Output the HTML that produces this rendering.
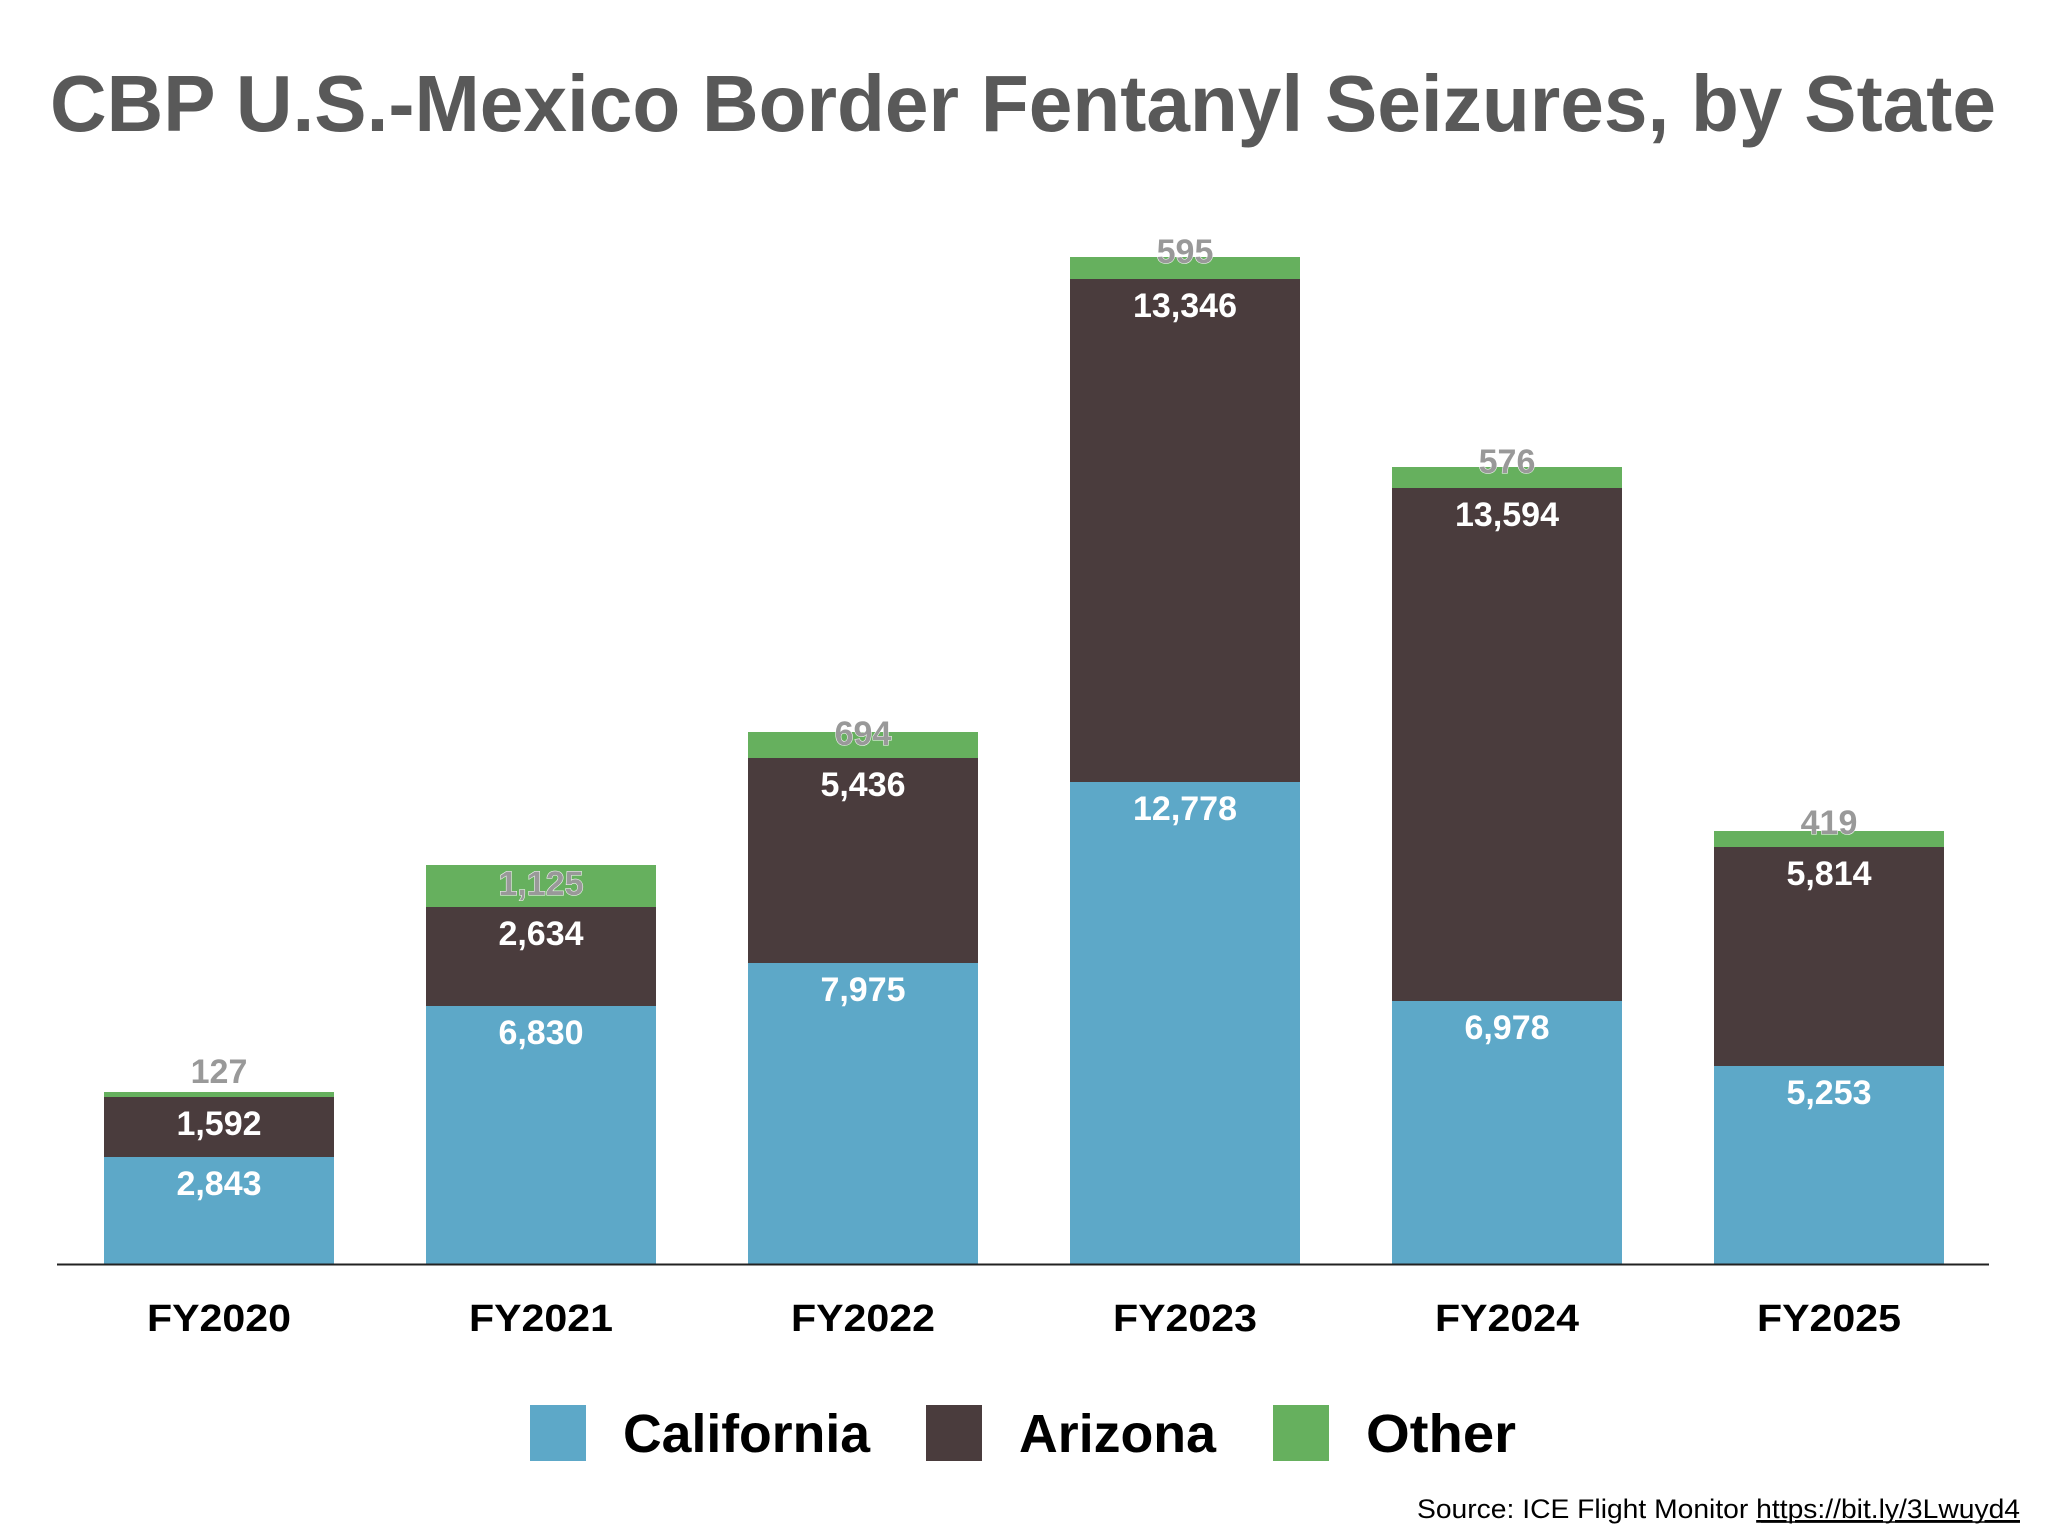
<!DOCTYPE html>
<html><head><meta charset="utf-8"><style>
html,body{margin:0;padding:0;background:#fff;}
svg{display:block;}
text{font-family:"Liberation Sans",sans-serif;}
</style></head><body>
<svg width="2048" height="1536" viewBox="0 0 2048 1536" xmlns="http://www.w3.org/2000/svg">
<rect width="2048" height="1536" fill="#fff"/>
<text x="50" y="131" font-size="80" font-weight="bold" fill="#595959" textLength="1946" lengthAdjust="spacingAndGlyphs">CBP U.S.-Mexico Border Fentanyl Seizures, by State</text>

<g id="bars">
<!-- FY2020 -->
<rect x="104" y="1157" width="230" height="107" fill="#5da8c8"/>
<rect x="104" y="1097" width="230" height="60" fill="#4a3c3d"/>
<rect x="104" y="1092" width="230" height="5" fill="#66b05e"/>
<!-- FY2021 -->
<rect x="426" y="1006" width="230" height="258" fill="#5da8c8"/>
<rect x="426" y="907" width="230" height="99" fill="#4a3c3d"/>
<rect x="426" y="865" width="230" height="42" fill="#66b05e"/>
<!-- FY2022 -->
<rect x="748" y="963" width="230" height="301" fill="#5da8c8"/>
<rect x="748" y="758" width="230" height="205" fill="#4a3c3d"/>
<rect x="748" y="732" width="230" height="26" fill="#66b05e"/>
<!-- FY2023 -->
<rect x="1070" y="782" width="230" height="482" fill="#5da8c8"/>
<rect x="1070" y="279" width="230" height="503" fill="#4a3c3d"/>
<rect x="1070" y="257" width="230" height="22" fill="#66b05e"/>
<!-- FY2024 -->
<rect x="1392" y="1001" width="230" height="263" fill="#5da8c8"/>
<rect x="1392" y="488" width="230" height="513" fill="#4a3c3d"/>
<rect x="1392" y="467" width="230" height="21" fill="#66b05e"/>
<!-- FY2025 -->
<rect x="1714" y="1066" width="230" height="198" fill="#5da8c8"/>
<rect x="1714" y="847" width="230" height="219" fill="#4a3c3d"/>
<rect x="1714" y="831" width="230" height="16" fill="#66b05e"/>
</g>

<line x1="57" y1="1264.5" x2="1989" y2="1264.5" stroke="#222" stroke-width="2"/>

<g font-size="34" font-weight="bold" fill="#fff" text-anchor="middle">
<text x="219" y="1195">2,843</text>
<text x="219" y="1135">1,592</text>
<text x="541" y="1044">6,830</text>
<text x="541" y="945">2,634</text>
<text x="863" y="1001">7,975</text>
<text x="863" y="796">5,436</text>
<text x="1185" y="820">12,778</text>
<text x="1185" y="317">13,346</text>
<text x="1507" y="1039">6,978</text>
<text x="1507" y="526">13,594</text>
<text x="1829" y="1104">5,253</text>
<text x="1829" y="885">5,814</text>
</g>
<g font-size="34" font-weight="bold" fill="#999" text-anchor="middle" stroke="#fff" stroke-width="1" paint-order="stroke">
<text x="219" y="1083">127</text>
<text x="541" y="895">1,125</text>
<text x="863" y="745">694</text>
<text x="1185" y="263">595</text>
<text x="1507" y="473">576</text>
<text x="1829" y="834">419</text>
</g>

<g font-size="38" font-weight="bold" fill="#000" text-anchor="middle">
<text x="219" y="1331" textLength="144" lengthAdjust="spacingAndGlyphs">FY2020</text>
<text x="541" y="1331" textLength="144" lengthAdjust="spacingAndGlyphs">FY2021</text>
<text x="863" y="1331" textLength="144" lengthAdjust="spacingAndGlyphs">FY2022</text>
<text x="1185" y="1331" textLength="144" lengthAdjust="spacingAndGlyphs">FY2023</text>
<text x="1507" y="1331" textLength="144" lengthAdjust="spacingAndGlyphs">FY2024</text>
<text x="1829" y="1331" textLength="144" lengthAdjust="spacingAndGlyphs">FY2025</text>
</g>

<rect x="530" y="1405" width="56" height="56" fill="#5da8c8"/>
<rect x="926" y="1405" width="56" height="56" fill="#4a3c3d"/>
<rect x="1273" y="1405" width="56" height="56" fill="#66b05e"/>
<g font-size="54" font-weight="bold" fill="#000">
<text x="623" y="1452" textLength="247" lengthAdjust="spacingAndGlyphs">California</text>
<text x="1019" y="1452" textLength="197" lengthAdjust="spacingAndGlyphs">Arizona</text>
<text x="1366" y="1452" textLength="150" lengthAdjust="spacingAndGlyphs">Other</text>
</g>

<text x="1417" y="1518" font-size="27" fill="#000" textLength="603" lengthAdjust="spacingAndGlyphs">Source: ICE Flight Monitor <tspan text-decoration="underline">https://bit.ly/3Lwuyd4</tspan></text>
<line x1="1761" y1="1522" x2="2020" y2="1522" stroke="#000" stroke-width="1.5"/>
</svg>
</body></html>
